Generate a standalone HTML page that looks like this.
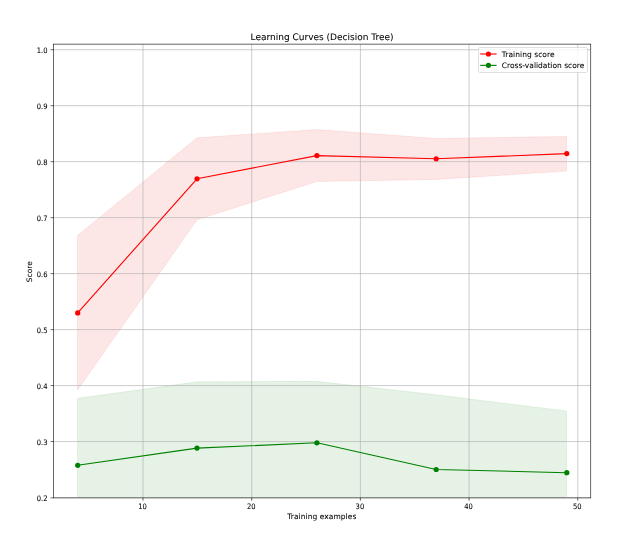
<!DOCTYPE html>
<html><head><meta charset="utf-8"><title>Learning Curves (Decision Tree)</title>
<style>html,body{margin:0;padding:0;background:#fff}svg{display:block}text{font-family:"DejaVu Sans","Liberation Sans",sans-serif;fill:#000;stroke:#000;stroke-width:0.06px;text-rendering:geometricPrecision}</style></head><body>
<svg width="620" height="541" viewBox="0 0 620 541">
<rect width="620" height="541" fill="#fff"/>
<defs><clipPath id="ax"><rect x="53.5" y="44.25" width="537.1" height="453.4"/></clipPath></defs>
<g clip-path="url(#ax)">
<polygon points="77.55,235.45 197.00,137.85 316.90,129.55 436.20,138.45 566.65,136.45 566.65,171.05 436.20,179.45 316.90,181.45 197.00,219.85 77.55,390.05" fill="#e10f05" fill-opacity="0.1" stroke="#e10f05" stroke-opacity="0.1" stroke-width="0.75" stroke-linejoin="miter"/>
<polygon points="77.55,398.35 197.00,381.85 316.90,381.35 436.20,394.85 566.65,410.95 566.65,537.35 436.20,537.35 316.90,537.35 197.00,537.35 77.55,537.35" fill="#008000" fill-opacity="0.1" stroke="#008000" stroke-opacity="0.1" stroke-width="0.75" stroke-linejoin="miter"/>
</g>
<g stroke="#b0b0b0" stroke-width="0.65" fill="none">
<line x1="143.03" y1="44.25" x2="143.03" y2="497.7"/>
<line x1="251.71" y1="44.25" x2="251.71" y2="497.7"/>
<line x1="360.39" y1="44.25" x2="360.39" y2="497.7"/>
<line x1="469.07" y1="44.25" x2="469.07" y2="497.7"/>
<line x1="577.75" y1="44.25" x2="577.75" y2="497.7"/>
<line x1="53.5" y1="497.55" x2="590.6" y2="497.55"/>
<line x1="53.5" y1="441.57" x2="590.6" y2="441.57"/>
<line x1="53.5" y1="385.59" x2="590.6" y2="385.59"/>
<line x1="53.5" y1="329.61" x2="590.6" y2="329.61"/>
<line x1="53.5" y1="273.63" x2="590.6" y2="273.63"/>
<line x1="53.5" y1="217.65" x2="590.6" y2="217.65"/>
<line x1="53.5" y1="161.67" x2="590.6" y2="161.67"/>
<line x1="53.5" y1="105.69" x2="590.6" y2="105.69"/>
<line x1="53.5" y1="49.71" x2="590.6" y2="49.71"/>
</g>
<g clip-path="url(#ax)">
<polyline points="77.7,312.9 197.0,178.8 316.9,155.6 436.2,158.8 566.8,153.6" fill="none" stroke="#ff0000" stroke-width="1.12" stroke-linejoin="round"/><circle cx="77.7" cy="312.9" r="2.6" fill="#ff0000"/><circle cx="197.0" cy="178.8" r="2.6" fill="#ff0000"/><circle cx="316.9" cy="155.6" r="2.6" fill="#ff0000"/><circle cx="436.2" cy="158.8" r="2.6" fill="#ff0000"/><circle cx="566.8" cy="153.6" r="2.6" fill="#ff0000"/>
<polyline points="77.7,465.3 197.0,448.1 316.9,442.8 436.2,469.5 566.8,472.7" fill="none" stroke="#008000" stroke-width="1.12" stroke-linejoin="round"/><circle cx="77.7" cy="465.3" r="2.6" fill="#008000"/><circle cx="197.0" cy="448.1" r="2.6" fill="#008000"/><circle cx="316.9" cy="442.8" r="2.6" fill="#008000"/><circle cx="436.2" cy="469.5" r="2.6" fill="#008000"/><circle cx="566.8" cy="472.7" r="2.6" fill="#008000"/>
</g>
<g stroke="#000" fill="none"><line x1="53.5" y1="43.9" x2="53.5" y2="498.09999999999997" stroke-width="0.6"/><line x1="590.6" y1="43.9" x2="590.6" y2="498.09999999999997" stroke-width="0.6"/><line x1="53.2" y1="44.2" x2="590.9" y2="44.2" stroke-width="0.75" stroke-opacity="0.82"/><line x1="53.2" y1="497.8" x2="590.9" y2="497.8" stroke-width="1.3" stroke-opacity="0.42"/></g>
<g stroke="#000" stroke-width="0.6">
<line x1="143.03" y1="497.7" x2="143.03" y2="500.7"/>
<line x1="251.71" y1="497.7" x2="251.71" y2="500.7"/>
<line x1="360.39" y1="497.7" x2="360.39" y2="500.7"/>
<line x1="469.07" y1="497.7" x2="469.07" y2="500.7"/>
<line x1="577.75" y1="497.7" x2="577.75" y2="500.7"/>
<line x1="53.5" y1="497.8" x2="50.5" y2="497.8" stroke-width="1.3" stroke-opacity="0.42"/>
<line x1="53.5" y1="441.57" x2="50.5" y2="441.57"/>
<line x1="53.5" y1="385.59" x2="50.5" y2="385.59"/>
<line x1="53.5" y1="329.61" x2="50.5" y2="329.61"/>
<line x1="53.5" y1="273.63" x2="50.5" y2="273.63"/>
<line x1="53.5" y1="217.65" x2="50.5" y2="217.65"/>
<line x1="53.5" y1="161.67" x2="50.5" y2="161.67"/>
<line x1="53.5" y1="105.69" x2="50.5" y2="105.69"/>
<line x1="53.5" y1="49.71" x2="50.5" y2="49.71"/>
</g>
<g font-size="7.5">
<text x="142.53" y="509.4" text-anchor="middle" textLength="8.6" lengthAdjust="spacingAndGlyphs">10</text>
<text x="251.21" y="509.4" text-anchor="middle" textLength="8.6" lengthAdjust="spacingAndGlyphs">20</text>
<text x="359.89" y="509.4" text-anchor="middle" textLength="8.6" lengthAdjust="spacingAndGlyphs">30</text>
<text x="468.57" y="509.4" text-anchor="middle" textLength="8.6" lengthAdjust="spacingAndGlyphs">40</text>
<text x="577.25" y="509.4" text-anchor="middle" textLength="8.6" lengthAdjust="spacingAndGlyphs">50</text>
<text x="47.5" y="501.05" text-anchor="end" textLength="10.75" lengthAdjust="spacingAndGlyphs">0.2</text>
<text x="47.5" y="445.07" text-anchor="end" textLength="10.75" lengthAdjust="spacingAndGlyphs">0.3</text>
<text x="47.5" y="389.09" text-anchor="end" textLength="10.75" lengthAdjust="spacingAndGlyphs">0.4</text>
<text x="47.5" y="333.11" text-anchor="end" textLength="10.75" lengthAdjust="spacingAndGlyphs">0.5</text>
<text x="47.5" y="277.13" text-anchor="end" textLength="10.75" lengthAdjust="spacingAndGlyphs">0.6</text>
<text x="47.5" y="221.15" text-anchor="end" textLength="10.75" lengthAdjust="spacingAndGlyphs">0.7</text>
<text x="47.5" y="165.17" text-anchor="end" textLength="10.75" lengthAdjust="spacingAndGlyphs">0.8</text>
<text x="47.5" y="109.19" text-anchor="end" textLength="10.75" lengthAdjust="spacingAndGlyphs">0.9</text>
<text x="47.5" y="53.21" text-anchor="end" textLength="10.75" lengthAdjust="spacingAndGlyphs">1.0</text>
<text x="321.8" y="518.7" text-anchor="middle" textLength="69.0">Training examples</text>
<text transform="translate(32.0,271.7) rotate(-90)" text-anchor="middle">Score</text>
</g>
<text x="322.05" y="39.6" font-size="9" text-anchor="middle">Learning Curves (Decision Tree)</text>
<rect x="478.5" y="47.5" width="108.9" height="25.0" rx="1.6" ry="1.6" fill="#fff" fill-opacity="0.8" stroke="#ccc" stroke-opacity="0.9" stroke-width="0.7"/>
<line x1="480.2" y1="54.0" x2="496.6" y2="54.0" stroke="#ff0000" stroke-width="1.12"/><circle cx="488.45" cy="54.0" r="2.6" fill="#ff0000"/>
<text x="501.8" y="56.55" font-size="7.5" textLength="52.8">Training score</text>
<line x1="480.2" y1="65.35" x2="496.6" y2="65.35" stroke="#008000" stroke-width="1.12"/><circle cx="488.45" cy="65.35" r="2.6" fill="#008000"/>
<text x="501.8" y="67.90" font-size="7.5">Cross-validation score</text>
</svg></body></html>
